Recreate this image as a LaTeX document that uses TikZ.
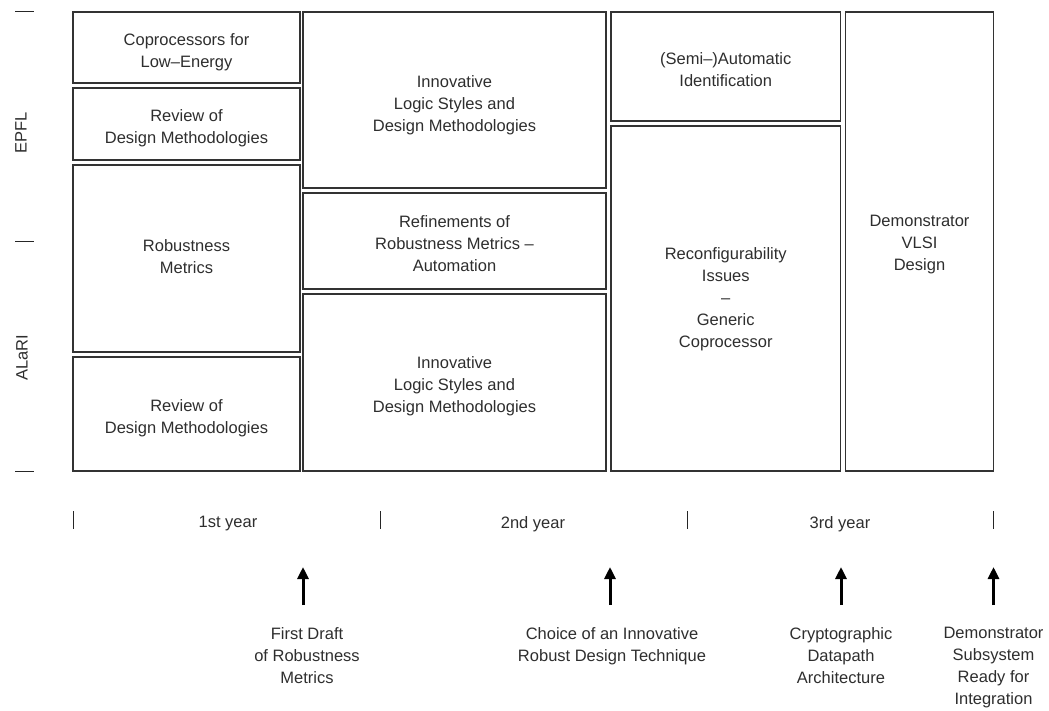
\documentclass[tikz,border=0pt]{standalone}
\usepackage{fontspec}
\setmainfont{Liberation Sans}
\usetikzlibrary{arrows.meta}
\begin{document}
\begin{tikzpicture}[x=1pt,y=-1pt,
  txt/.style={font=\fontsize{16.5}{22}\selectfont, align=center, text=black!82, inner sep=0pt},
  box/.style={draw=black!80, line width=1.2pt, rectangle, inner sep=0pt},
  tick/.style={draw=black!85, line width=1pt},
  milestone/.style={draw=black, line width=3pt, -{Triangle[width=11pt,length=12pt]}}
]
\useasboundingbox (0,0) rectangle (1049,711);
% Column 1
\node[box, minimum width=227pt, minimum height=71pt]  (c1a) at (186.5,47.5) {};
\node[box, minimum width=227pt, minimum height=72pt]  (c1b) at (186.5,124) {};
\node[box, minimum width=227pt, minimum height=187pt] (c1c) at (186.5,258.5) {};
\node[box, minimum width=227pt, minimum height=114pt] (c1d) at (186.5,414) {};
\node[txt] (c1a-t) at ([yshift=-4.5pt]c1a.center) {Coprocessors for\\Low–Energy};
\node[txt] (c1b-t) at ([yshift=-4.5pt]c1b.center) {Review of\\Design Methodologies};
\node[txt] (c1c-t) at ([yshift=1.5pt]c1c.center) {Robustness\\Metrics};
\node[txt] (c1d-t) at ([yshift=-4pt]c1d.center) {Review of\\Design Methodologies};
% Column 2
\node[box, minimum width=303pt, minimum height=176pt] (c2a) at (454.5,100) {};
\node[box, minimum width=303pt, minimum height=96pt]  (c2b) at (454.5,241) {};
\node[box, minimum width=303pt, minimum height=177pt] (c2c) at (454.5,382.5) {};
\node[txt] (c2a-t) at ([yshift=-5pt]c2a.center) {Innovative\\Logic Styles and\\Design Methodologies};
\node[txt] (c2b-t) at ([yshift=-3pt]c2b.center) {Refinements of\\Robustness Metrics –\\Automation};
\node[txt] (c2c-t) at ([yshift=-3.5pt]c2c.center) {Innovative\\Logic Styles and\\Design Methodologies};
% Column 3
\node[box, minimum width=229.5pt, minimum height=109pt] (c3a) at (725.75,66.5) {};
\node[box, minimum width=229.5pt, minimum height=345pt] (c3b) at (725.75,298.5) {};
\node[txt] (c3a-t) at ([yshift=-3pt]c3a.center) {(Semi–)Automatic\\Identification};
\node[txt] (c3b-t) at ([yshift=-1pt]c3b.center) {Reconfigurability\\Issues\\–\\Generic\\Coprocessor};
% Column 4
\node[box, minimum width=148pt, minimum height=459pt] (c4a) at (919.5,241.5) {};
\node[txt] (c4a-t) at ([yshift=-3pt]c4a.center) {Demonstrator\\VLSI\\Design};

% left scale
\coordinate (l1a) at (15,12);  \coordinate (l1b) at (34,12);
\coordinate (l2a) at (15,241.5); \coordinate (l2b) at (34,241.5);
\coordinate (l3a) at (15,471); \coordinate (l3b) at (34,471);
\draw[tick] (l1a) -- (l1b);
\draw[tick] (l2a) -- (l2b);
\draw[tick] (l3a) -- (l3b);
\node[txt, rotate=90] (epfl) at (21,133) {EPFL};
\node[txt, rotate=90] (alari) at (22,358) {ALaRI};

% timeline
\coordinate (t1a) at (73,511);  \coordinate (t1b) at (73,529);
\coordinate (t2a) at (380,511); \coordinate (t2b) at (380,529);
\coordinate (t3a) at (687,511); \coordinate (t3b) at (687,529);
\coordinate (t4a) at (993.5,511); \coordinate (t4b) at (993.5,529);
\draw[tick] (t1a) -- (t1b);
\draw[tick] (t2a) -- (t2b);
\draw[tick] (t3a) -- (t3b);
\draw[tick] (t4a) -- (t4b);
\node[txt] (y1) at (228,524) {1st year};
\node[txt] (y2) at (533,524) {2nd year};
\node[txt] (y3) at (840,524) {3rd year};

% milestones
\coordinate (m1a) at (303,605); \coordinate (m1b) at (303,567);
\coordinate (m2a) at (610,605); \coordinate (m2b) at (610,567);
\coordinate (m3a) at (841,605); \coordinate (m3b) at (841,567);
\coordinate (m4a) at (993.5,605); \coordinate (m4b) at (993.5,567);
\draw[milestone] (m1a) -- (m1b);
\draw[milestone] (m2a) -- (m2b);
\draw[milestone] (m3a) -- (m3b);
\draw[milestone] (m4a) -- (m4b);
\node[txt, anchor=north] (d1) at (307,627) {First Draft\\of Robustness\\Metrics};
\node[txt, anchor=north] (d2) at (612,627) {Choice of an Innovative\\Robust Design Technique};
\node[txt, anchor=north] (d3) at (841,627) {Cryptographic\\Datapath\\Architecture};
\node[txt, anchor=north] (d4) at (993.5,627) {Demonstrator\\Subsystem\\Ready for\\Integration};
\end{tikzpicture}
\end{document}
